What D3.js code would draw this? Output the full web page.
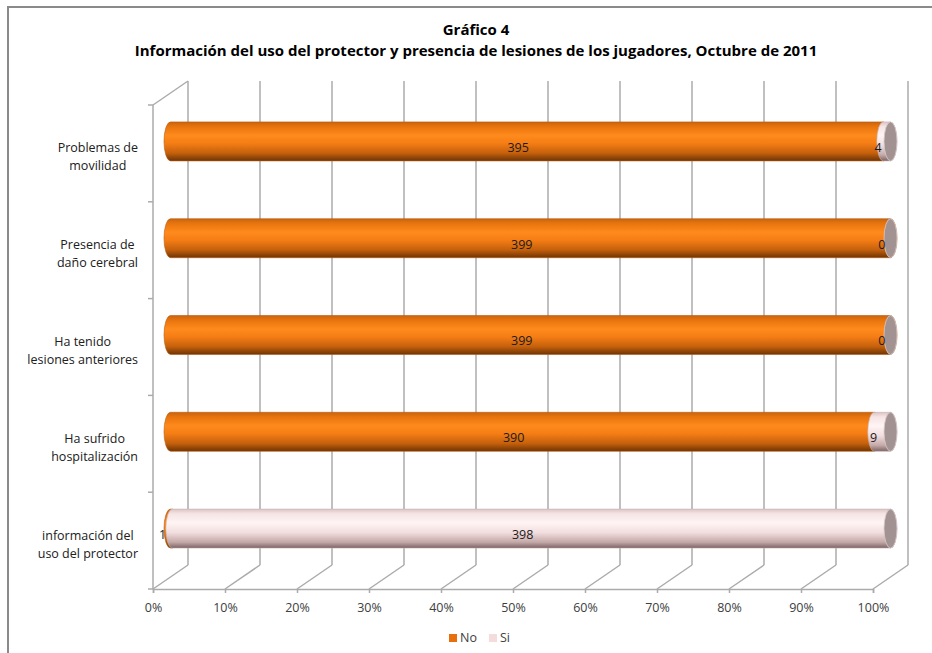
<!DOCTYPE html>
<html>
<head>
<meta charset="utf-8">
<script src="https://cdn.jsdelivr.net/npm/d3@7/dist/d3.min.js"></script>
<style>
  html, body { margin: 0; padding: 0; background: #fff; }
  svg { display: block; }
  text { font-family: "Open Sans", "Noto Sans", sans-serif; }
</style>
</head>
<body>
<svg id="chart" width="932" height="653"></svg>
<script>
// Chart data
const categories = [
  ["Problemas de", "movilidad"],
  ["Presencia de", "daño cerebral"],
  ["Ha tenido", "lesiones anteriores"],
  ["Ha sufrido", "hospitalización"],
  ["información del", "uso del protector"]
];
const seriesNames = ["No", "Si"];
const noValues = [395, 399, 399, 390, 1];
const siValues = [4, 0, 0, 9, 398];
const tickValues = [0, 0.1, 0.2, 0.3, 0.4, 0.5, 0.6, 0.7, 0.8, 0.9, 1];
const titleLines = ["Gráfico 4", "Información del uso del protector y presencia de lesiones de los jugadores, Octubre de 2011"];

const svg = d3.select("#chart");
const defs = svg.append("defs");

// Frame of the chart area
svg.append("path")
  .attr("d", "M8,653 V7 H932")
  .attr("fill", "none")
  .attr("stroke", "#8a8a8a")
  .attr("stroke-width", 2);

// Title
svg.append("g").selectAll("text")
  .data(titleLines)
  .join("text")
  .attr("x", 476)
  .attr("y", (d, i) => 35 + i * 21)
  .attr("text-anchor", "middle")
  .attr("font-weight", "bold")
  .attr("font-size", (d, i) => i === 0 ? 15 : 15)
  .attr("fill", "#000")
  .text(d => d);

// Plot geometry: front plane, depth offset for the 3D walls
const x = d3.scaleLinear().domain([0, 1]).range([153, 873]);
const y = d3.scaleBand().domain(d3.range(categories.length)).range([105, 589]);
const depth = { dx: 35, dy: -24 };
const floorY = 589;
const topY = 105;
const gridColor = "#ababab";

const grid = svg.append("g").attr("stroke", gridColor).attr("stroke-width", 1.5).attr("fill", "none");
// back wall verticals
grid.selectAll("line.back")
  .data(tickValues)
  .join("line")
  .attr("class", "back")
  .attr("x1", d => x(d) + depth.dx).attr("x2", d => x(d) + depth.dx)
  .attr("y1", topY + depth.dy).attr("y2", floorY + depth.dy);
// floor diagonals
grid.selectAll("line.floor")
  .data(tickValues)
  .join("line")
  .attr("class", "floor")
  .attr("x1", d => x(d)).attr("x2", d => x(d) + depth.dx)
  .attr("y1", floorY).attr("y2", floorY + depth.dy);
// left wall: top edge and front vertical
grid.append("line")
  .attr("x1", x(0)).attr("y1", topY)
  .attr("x2", x(0) + depth.dx).attr("y2", topY + depth.dy);
grid.append("line")
  .attr("x1", x(0)).attr("y1", topY)
  .attr("x2", x(0)).attr("y2", floorY);
// category boundary ticks on the left wall
const boundaries = d3.range(categories.length).map(i => y(i)).concat([floorY]);
grid.selectAll("line.ctick")
  .data(boundaries)
  .join("line")
  .attr("class", "ctick")
  .attr("x1", x(0) - 5).attr("x2", x(0))
  .attr("y1", d => d).attr("y2", d => d);

// X axis on the front floor edge
const xAxis = d3.axisBottom(x)
  .tickValues(tickValues)
  .tickFormat(d3.format(".0%"))
  .tickSize(4)
  .tickPadding(10);
const axisG = svg.append("g")
  .attr("transform", `translate(0,${floorY})`)
  .call(xAxis);
axisG.select(".domain").attr("stroke", gridColor).attr("stroke-width", 1.5);
axisG.selectAll(".tick line").attr("stroke", gridColor).attr("stroke-width", 1.5);
axisG.selectAll(".tick text")
  .attr("fill", "#404040")
  .attr("font-size", 12.5)
  .attr("font-family", "'Open Sans', 'Noto Sans', sans-serif");

// Category labels: each label block is right-aligned to the wall,
// lines centred within the block
const labelRight = 138;
const catG = svg.append("g");
categories.forEach((lines, i) => {
  const cy = y(i) + y.bandwidth() / 2;
  const t = catG.append("text")
    .attr("text-anchor", "middle")
    .attr("font-size", 12.5)
    .attr("fill", "#202020");
  const spans = t.selectAll("tspan")
    .data(lines)
    .join("tspan")
    .attr("y", (d, j) => cy - 1 + j * 18)
    .text(d => d);
  const w = d3.max(spans.nodes(), n => n.getComputedTextLength());
  spans.attr("x", labelRight - w / 2);
});

// Gradients for the cylinders
function gradient(id, stops) {
  const g = defs.append("linearGradient").attr("id", id)
    .attr("x1", 0).attr("y1", 0).attr("x2", 0).attr("y2", 1);
  stops.forEach(s => g.append("stop").attr("offset", s[0]).attr("stop-color", s[1]));
}
gradient("gNo", [[0, "#c86410"], [0.12, "#e8740e"], [0.35, "#ff8a1c"], [0.55, "#f57d15"], [0.8, "#c4600c"], [1, "#6e3404"]]);
gradient("gSi", [[0, "#dcc4c4"], [0.12, "#f6e4e4"], [0.35, "#fff4f4"], [0.6, "#f2dede"], [0.85, "#c4a8a8"], [1, "#7a6262"]]);
const fills = ["url(#gNo)", "url(#gSi)"];
const edge = ["#b85c0c", "#c8b0b0"];

// Cylinders sit at mid-depth
const mid = { dx: depth.dx / 2, dy: depth.dy / 2 };
const ry = 19.5, rx = 6.5;

function segPath(x0, x1, cy) {
  return `M${x0},${cy - ry} L${x1},${cy - ry}` +
    ` A${rx},${ry} 0 0 1 ${x1},${cy + ry}` +
    ` L${x0},${cy + ry}` +
    ` A${rx},${ry} 0 0 1 ${x0},${cy - ry} Z`;
}

const barG = svg.append("g");
const labelG = svg.append("g");
categories.forEach((c, i) => {
  const total = noValues[i] + siValues[i];
  const vals = [noValues[i], siValues[i]];
  const cy = y(i) + y.bandwidth() / 2 + mid.dy;
  let acc = 0;
  const segs = vals.map((v, k) => {
    const s = { k, v, a: acc / total, b: (acc + v) / total };
    acc += v;
    return s;
  });
  segs.forEach(s => {
    if (s.v <= 0) return;
    barG.append("path")
      .attr("d", segPath(x(s.a) + mid.dx, x(s.b) + mid.dx, cy))
      .attr("fill", fills[s.k])
      .attr("stroke", edge[s.k])
      .attr("stroke-width", 0.6);
  });
  // end cap of the whole cylinder
  barG.append("ellipse")
    .attr("cx", x(1) + mid.dx)
    .attr("cy", cy)
    .attr("rx", rx).attr("ry", ry)
    .attr("fill", "#a29292")
    .attr("stroke", "#d8caca")
    .attr("stroke-width", 0.8);
  // value labels
  segs.forEach(s => {
    labelG.append("text")
      .attr("x", x((s.a + s.b) / 2) + depth.dx / 4)
      .attr("y", y(i) + y.bandwidth() / 2 + depth.dy / 4)
      .attr("dy", "0.35em")
      .attr("text-anchor", "middle")
      .attr("font-size", 12.5)
      .attr("fill", "#1a1a1a")
      .text(s.v);
  });
});

// Legend
const legend = svg.append("g").attr("transform", "translate(453,638)");
const legendItems = [
  { name: seriesNames[0], color: "#e86f0c", x: 0 },
  { name: seriesNames[1], color: "#f4dcdc", x: 40 }
];
legendItems.forEach(it => {
  legend.append("rect").attr("x", it.x - 4).attr("y", -4).attr("width", 8).attr("height", 8).attr("fill", it.color);
  legend.append("text").attr("x", it.x + 7).attr("y", 0).attr("dy", "0.35em")
    .attr("font-size", 12.5).attr("fill", "#404040").text(it.name);
});
</script>
</body>
</html>
